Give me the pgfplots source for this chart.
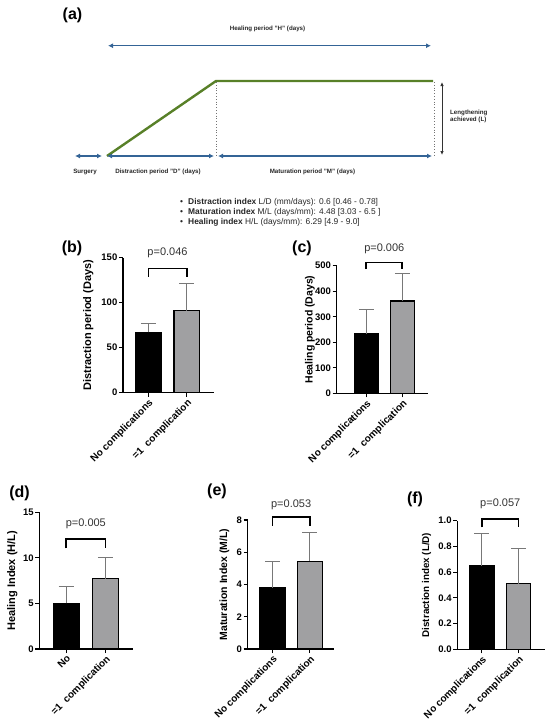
\documentclass[border=0pt]{standalone}
\usepackage{fontspec}
\setmainfont{Liberation Sans}
\usepackage{pgfplots}
\pgfplotsset{compat=1.18}
\usetikzlibrary{arrows.meta}
\definecolor{arrowblue}{RGB}{52,100,150}
\definecolor{diagreen}{RGB}{88,128,40}
\definecolor{bargray}{RGB}{160,160,162}
\definecolor{errgray}{RGB}{120,120,120}
\pgfplotsset{
  gp/.style={
    scale only axis, clip=false, anchor=south west,
    axis lines=left, axis line style={-, line width=1.2pt, black},
    tick align=outside, major tick length=4pt,
    tick style={line width=1.1pt, black},
    xtick={0,1}, ymin=0,
    /pgf/number format/assume math mode=true,
    yticklabel style={font=\bfseries\fontsize{9.5}{10}\selectfont, inner sep=1.5pt},
    xticklabel style={rotate=45, anchor=north east, font=\bfseries\fontsize{10}{11}\selectfont, inner sep=1pt},
    every axis y label/.style={rotate=90, anchor=center, font=\bfseries\fontsize{10.5}{12}\selectfont},
  },
  blackbar/.style={ybar, bar shift=0pt, fill=black, draw=black, line width=1.2pt,
    error bars/.cd, y dir=plus, y explicit,
    error bar style={errgray, line width=0.9pt},
    error mark options={rotate=90, mark size=7.5pt, errgray, line width=0.9pt}},
  graybar/.style={ybar, bar shift=0pt, fill=bargray, draw=black, line width=1.2pt,
    error bars/.cd, y dir=plus, y explicit,
    error bar style={errgray, line width=0.9pt},
    error mark options={rotate=90, mark size=7.5pt, errgray, line width=0.9pt}},
}
\newcommand{\dfont}{\bfseries\fontsize{6.2}{7.5}\selectfont}
\newcommand{\pfont}{\fontsize{11}{12}\selectfont}
\newcommand{\lfont}{\bfseries\fontsize{16}{18}\selectfont}
\begin{document}
\begin{tikzpicture}
\useasboundingbox (0,0) rectangle (550pt,-726pt);

% ---------- panel (a) ----------
\begin{axis}[at={(0pt,-240pt)}, anchor=south west, scale only axis,
  width=550pt, height=240pt, xmin=0, xmax=550, ymin=0, ymax=240,
  y dir=reverse, axis lines=none, clip=false]
\addplot[diagreen, line width=2.4pt] coordinates {(107,156) (216,81) (433,81)};
\draw[black!55, dotted, line width=0.8pt] (axis cs:216,82) -- (axis cs:216,156);
\draw[black!55, dotted, line width=0.8pt] (axis cs:434,82) -- (axis cs:434,156);
\draw[arrowblue, line width=1.2pt, {Latex[length=5pt,width=5pt]}-{Latex[length=5pt,width=5pt]}] (axis cs:108,45.7) -- (axis cs:431,45.7);
\draw[arrowblue, line width=1.2pt, {Latex[length=5pt,width=5pt]}-{Latex[length=5pt,width=5pt]}] (axis cs:75,156) -- (axis cs:102,156);
\draw[arrowblue, line width=1.2pt, {Latex[length=5pt,width=5pt]}-{Latex[length=5pt,width=5pt]}] (axis cs:107,156) -- (axis cs:214,156);
\draw[arrowblue, line width=1.2pt, {Latex[length=5pt,width=5pt]}-{Latex[length=5pt,width=5pt]}] (axis cs:218,156) -- (axis cs:432,156);
\draw[black!80, line width=0.8pt, {Latex[length=4pt,width=3.5pt]}-{Latex[length=4pt,width=3.5pt]}] (axis cs:442,82) -- (axis cs:442,155);
\node[font=\lfont] at (axis cs:72.5,15.5) {(a)};
\node[font=\dfont, text=black!85] at (axis cs:267.5,29) {Healing period "H" (days)};
\node[font=\dfont, text=black!85] at (axis cs:85,172) {Surgery};
\node[font=\dfont, text=black!85] at (axis cs:158,172) {Distraction period "D" (days)};
\node[font=\dfont, text=black!85] at (axis cs:312.5,172) {Maturation period "M" (days)};
\node[font=\dfont, text=black!85, anchor=west, align=left, inner sep=0pt] at (axis cs:450,116.5) {Lengthening\\achieved (L)};
\node[font=\fontsize{8.4}{10}\selectfont, text=black!85] at (axis cs:181.5,202.7) {\textbullet};
\node[font=\fontsize{8.4}{10}\selectfont, text=black!85] at (axis cs:181.5,212.7) {\textbullet};
\node[font=\fontsize{8.4}{10}\selectfont, text=black!85] at (axis cs:181.5,222.7) {\textbullet};
\node[font=\fontsize{8.4}{10}\selectfont, text=black!85, anchor=west, inner sep=0pt] at (axis cs:188,202.7) {\textbf{Distraction index} L/D (mm/days): 0.6 [0.46 - 0.78]};
\node[font=\fontsize{8.4}{10}\selectfont, text=black!85, anchor=west, inner sep=0pt] at (axis cs:188,212.7) {\textbf{Maturation index} M/L (days/mm): 4.48 [3.03 - 6.5 ]};
\node[font=\fontsize{8.4}{10}\selectfont, text=black!85, anchor=west, inner sep=0pt] at (axis cs:188,222.7) {\textbf{Healing index} H/L (days/mm): 6.29 [4.9 - 9.0]};
\end{axis}

% ---------- panel (b) ----------
\begin{axis}[gp, at={(123pt,-392.7pt)}, width=91pt, height=135pt,
  xmin=-0.659, xmax=1.711, ymax=150, ytick={0,50,100,150},
  xticklabels={No complications,=1~~complication},
  ylabel={Distraction period (Days)},
  ylabel style={at={(axis description cs:-0.381,0.5)}, font=\bfseries\fontsize{11}{12}\selectfont}]
\addplot[bar width=0.66, blackbar] coordinates {(0,67) +- (0,10)};
\addplot[bar width=0.66, graybar] coordinates {(1,91) +- (0,30)};
\draw[line width=1.6pt] (axis cs:0,128.9) -- (axis cs:0,138.2) -- (axis cs:1,138.2) -- (axis cs:1,128.9);
\node[font=\pfont, text=black!80] at (axis cs:0.5,154.9) {p=0.046};
\end{axis}

% ---------- panel (c) ----------
\begin{axis}[gp, at={(336.7pt,-393.3pt)}, width=91pt, height=127.6pt,
  xmin=-0.822, xmax=1.706, ymax=500, ytick={0,100,200,300,400,500},
  xticklabels={No complications,=1~~complication},
  ylabel={Healing period (Days)},
  ylabel style={at={(axis description cs:-0.293,0.5)}}]
\addplot[bar width=0.667, blackbar] coordinates {(0,233) +- (0,95)};
\addplot[bar width=0.667, graybar] coordinates {(1,362) +- (0,106)};
\draw[line width=1.6pt] (axis cs:0,487) -- (axis cs:0,513.3) -- (axis cs:1,513.3) -- (axis cs:1,487);
\node[font=\pfont, text=black!80] at (axis cs:0.5,565.4) {p=0.006};
\end{axis}

% ---------- panel (d) ----------
\begin{axis}[gp, at={(39.3pt,-649pt)}, width=93.7pt, height=136.7pt,
  xmin=-0.684, xmax=1.70, ymax=15, ytick={0,5,10,15},
  xticklabels={No,=1~~complication},
  ylabel={Healing Index (H/L)},
  ylabel style={at={(axis description cs:-0.288,0.5)}, font=\bfseries\fontsize{11}{12}\selectfont}]
\addplot[bar width=0.654, blackbar] coordinates {(0,5.0) +- (0,1.85)};
\addplot[bar width=0.654, graybar] coordinates {(1,7.7) +- (0,2.3)};
\draw[line width=1.6pt] (axis cs:0,11.05) -- (axis cs:0,12.04) -- (axis cs:1,12.04) -- (axis cs:1,11.05);
\node[font=\pfont, text=black!80] at (axis cs:0.5,13.79) {p=0.005};
\end{axis}

% ---------- panel (e) ----------
\begin{axis}[gp, at={(247.7pt,-649pt)}, width=86.3pt, height=129pt,
  xmin=-0.665, xmax=1.649, ymax=8, ytick={0,2,4,6,8},
  xticklabels={No complications,=1~~complication},
  ylabel={Maturation Index (M/L)},
  ylabel style={at={(axis description cs:-0.271,0.5)}}]
\addplot[bar width=0.67, blackbar] coordinates {(0,3.78) +- (0,1.67)};
\addplot[bar width=0.67, graybar] coordinates {(1,5.45) +- (0,1.8)};
\draw[line width=1.6pt] (axis cs:0,7.63) -- (axis cs:0,8.17) -- (axis cs:1,8.17) -- (axis cs:1,7.63);
\node[font=\pfont, text=black!80] at (axis cs:0.5,8.97) {p=0.053};
\end{axis}

% ---------- panel (f) ----------
\begin{axis}[gp, at={(457.3pt,-649.3pt)}, width=87.7pt, height=128.6pt,
  xmin=-0.664, xmax=1.713, ymax=1, ytick={0,0.2,0.4,0.6,0.8,1.0},
  yticklabel style={/pgf/number format/.cd, fixed, fixed zerofill, precision=1},
  xticklabels={No complications,=1~~complication},
  ylabel={Distraction index (L/D)},
  ylabel style={at={(axis description cs:-0.349,0.5)}, font=\bfseries\fontsize{9.8}{11}\selectfont}]
\addplot[bar width=0.656, blackbar] coordinates {(0,0.65) +- (0,0.25)};
\addplot[bar width=0.656, graybar] coordinates {(1,0.51) +- (0,0.275)};
\draw[line width=1.6pt] (axis cs:0,0.949) -- (axis cs:0,1.013) -- (axis cs:1,1.013) -- (axis cs:1,0.949);
\node[font=\pfont, text=black!80] at (axis cs:0.5,1.128) {p=0.057};
\end{axis}

% panel letters
\node[font=\lfont] at (72pt,-248pt) {(b)};
\node[font=\lfont] at (302pt,-248pt) {(c)};
\node[font=\lfont] at (19.5pt,-493pt) {(d)};
\node[font=\lfont] at (217pt,-491pt) {(e)};
\node[font=\lfont] at (415pt,-499pt) {(f)};
\end{tikzpicture}
\end{document}
